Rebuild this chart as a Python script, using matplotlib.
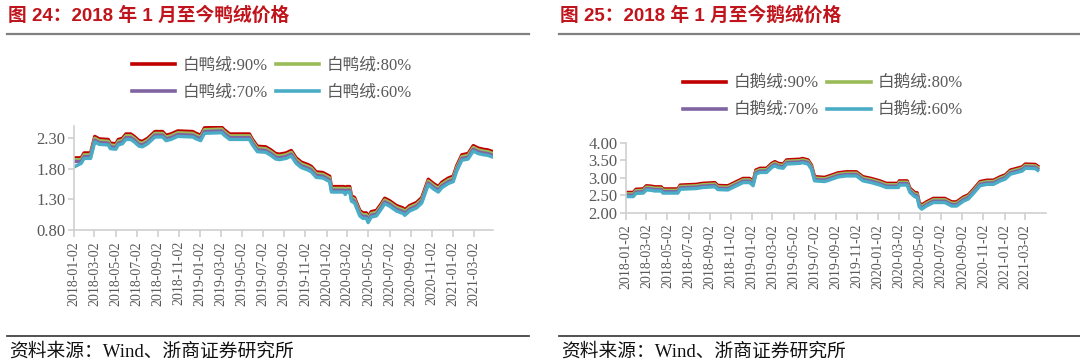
"""Duck and goose down prices since Jan 2018 (two side-by-side panels)."""

import matplotlib

matplotlib.use("Agg")
import matplotlib.pyplot as plt
import pandas as pd
from matplotlib.lines import Line2D

CJK = "Noto Sans CJK SC"
SERIF = ["Liberation Serif", CJK]
SANS = ["Liberation Sans", CJK]

SERIES_COLORS = ["#C00000", "#9BBB59", "#8064A2", "#4BACC6"]
GRADES = ["90%", "80%", "70%", "60%"]

tick_labels = [
    "2018-01-02", "2018-03-02", "2018-05-02", "2018-07-02", "2018-09-02",
    "2018-11-02", "2019-01-02", "2019-03-02", "2019-05-02", "2019-07-02",
    "2019-09-02", "2019-11-02", "2020-01-02", "2020-03-02", "2020-05-02",
    "2020-07-02", "2020-09-02", "2020-11-02", "2021-01-02", "2021-03-02",
]

# --- 白鸭绒 (duck down) ---
duck_dates = [
    "2018-01-02", "2018-01-23", "2018-01-31", "2018-02-19", "2018-03-03",
    "2018-03-16", "2018-04-11", "2018-04-17", "2018-05-03", "2018-05-10",
    "2018-05-22", "2018-06-01", "2018-06-15", "2018-06-25", "2018-07-09",
    "2018-07-19", "2018-08-03", "2018-08-24", "2018-09-15", "2018-09-25",
    "2018-10-09", "2018-10-29", "2018-12-11", "2018-12-21", "2019-01-03",
    "2019-01-14", "2019-03-05", "2019-03-12", "2019-03-28", "2019-05-24",
    "2019-06-02", "2019-06-16", "2019-07-10", "2019-07-25", "2019-08-08",
    "2019-08-19", "2019-09-07", "2019-09-22", "2019-10-06", "2019-10-21",
    "2019-11-09", "2019-11-19", "2019-12-03", "2019-12-22", "2020-01-11",
    "2020-01-16", "2020-02-21", "2020-02-25", "2020-02-29", "2020-03-09",
    "2020-03-14", "2020-03-23", "2020-04-07", "2020-04-16", "2020-04-26",
    "2020-05-01", "2020-05-10", "2020-05-25", "2020-06-08", "2020-06-18",
    "2020-07-02", "2020-07-22", "2020-08-10", "2020-08-15", "2020-08-29",
    "2020-09-18", "2020-10-03", "2020-10-22", "2020-11-06", "2020-11-20",
    "2020-11-30", "2020-12-19", "2021-01-02", "2021-01-12", "2021-01-27",
    "2021-02-14", "2021-03-01", "2021-03-15", "2021-03-30", "2021-04-12",
    "2021-04-27",
]
duck_90 = [
    1.98, 1.98, 2.06, 2.06, 2.33, 2.29, 2.28, 2.22, 2.21, 2.28,
    2.30, 2.37, 2.37, 2.33, 2.26, 2.25, 2.30, 2.41, 2.41, 2.35,
    2.37, 2.42, 2.41, 2.38, 2.35, 2.47, 2.48, 2.44, 2.37, 2.37,
    2.28, 2.17, 2.16, 2.11, 2.05, 2.04, 2.06, 2.10, 1.98, 1.91,
    1.87, 1.84, 1.75, 1.74, 1.68, 1.51, 1.51, 1.47, 1.51, 1.51,
    1.36, 1.33, 1.12, 1.08, 1.08, 1.01, 1.10, 1.12, 1.23, 1.32,
    1.28, 1.20, 1.16, 1.13, 1.20, 1.25, 1.33, 1.63, 1.56, 1.51,
    1.58, 1.65, 1.68, 1.85, 2.03, 2.05, 2.18, 2.14, 2.12, 2.11,
    2.08,
]
duck_80 = [
    1.95, 1.95, 2.03, 2.03, 2.30, 2.26, 2.25, 2.19, 2.18, 2.25,
    2.27, 2.34, 2.34, 2.30, 2.23, 2.22, 2.27, 2.38, 2.38, 2.32,
    2.34, 2.39, 2.38, 2.35, 2.32, 2.44, 2.45, 2.41, 2.34, 2.34,
    2.25, 2.14, 2.13, 2.08, 2.02, 2.01, 2.03, 2.07, 1.95, 1.88,
    1.84, 1.81, 1.72, 1.71, 1.65, 1.48, 1.48, 1.44, 1.48, 1.48,
    1.33, 1.30, 1.09, 1.05, 1.05, 0.98, 1.07, 1.09, 1.20, 1.29,
    1.25, 1.17, 1.13, 1.10, 1.17, 1.22, 1.30, 1.60, 1.53, 1.48,
    1.55, 1.62, 1.65, 1.82, 2.00, 2.02, 2.15, 2.11, 2.09, 2.08,
    2.05,
]
duck_70 = [
    1.92, 1.92, 2.00, 2.00, 2.27, 2.23, 2.22, 2.16, 2.15, 2.22,
    2.24, 2.31, 2.31, 2.27, 2.20, 2.19, 2.24, 2.35, 2.35, 2.29,
    2.31, 2.36, 2.35, 2.32, 2.29, 2.41, 2.42, 2.38, 2.31, 2.31,
    2.22, 2.11, 2.10, 2.05, 1.99, 1.98, 2.00, 2.04, 1.92, 1.85,
    1.81, 1.78, 1.69, 1.68, 1.62, 1.45, 1.45, 1.41, 1.45, 1.45,
    1.30, 1.27, 1.06, 1.02, 1.02, 0.95, 1.04, 1.06, 1.17, 1.26,
    1.22, 1.14, 1.10, 1.07, 1.14, 1.19, 1.27, 1.57, 1.50, 1.45,
    1.52, 1.59, 1.62, 1.79, 1.97, 1.99, 2.12, 2.08, 2.06, 2.05,
    2.02,
]
duck_60 = [
    1.83, 1.89, 1.97, 1.97, 2.24, 2.20, 2.19, 2.13, 2.12, 2.19,
    2.21, 2.28, 2.28, 2.24, 2.17, 2.16, 2.21, 2.32, 2.32, 2.26,
    2.28, 2.33, 2.32, 2.29, 2.26, 2.38, 2.39, 2.35, 2.28, 2.28,
    2.19, 2.08, 2.07, 2.02, 1.96, 1.95, 1.97, 2.01, 1.89, 1.82,
    1.78, 1.75, 1.66, 1.65, 1.59, 1.42, 1.42, 1.38, 1.42, 1.42,
    1.27, 1.24, 1.03, 0.99, 0.99, 0.92, 1.01, 1.03, 1.14, 1.23,
    1.19, 1.11, 1.07, 1.04, 1.11, 1.16, 1.24, 1.54, 1.47, 1.42,
    1.49, 1.56, 1.59, 1.76, 1.94, 1.96, 2.09, 2.05, 2.03, 2.02,
    1.99,
]

# --- 白鹅绒 (goose down) ---
goose_dates = [
    "2018-01-02", "2018-01-23", "2018-01-31", "2018-02-21", "2018-03-02",
    "2018-03-16", "2018-03-26", "2018-04-14", "2018-04-19", "2018-06-01",
    "2018-06-08", "2018-07-24", "2018-08-12", "2018-09-16", "2018-09-25",
    "2018-10-24", "2018-11-18", "2018-12-07", "2018-12-26", "2019-01-05",
    "2019-01-13", "2019-01-25", "2019-02-13", "2019-02-28", "2019-03-09",
    "2019-03-19", "2019-04-02", "2019-04-12", "2019-05-21", "2019-05-28",
    "2019-06-13", "2019-06-23", "2019-07-02", "2019-07-31", "2019-08-10",
    "2019-09-08", "2019-10-02", "2019-10-31", "2019-11-19", "2019-12-13",
    "2020-01-07", "2020-01-26", "2020-03-01", "2020-03-03", "2020-03-26",
    "2020-04-03", "2020-04-18", "2020-04-24", "2020-04-30", "2020-05-07",
    "2020-05-21", "2020-06-10", "2020-07-13", "2020-08-02", "2020-08-16",
    "2020-09-05", "2020-09-19", "2020-10-04", "2020-10-23", "2020-11-12",
    "2020-12-01", "2020-12-21", "2021-01-04", "2021-01-19", "2021-02-07",
    "2021-02-22", "2021-03-03", "2021-04-01", "2021-04-08",
]
goose_90 = [
    2.58, 2.58, 2.67, 2.68, 2.77, 2.76, 2.74, 2.74, 2.68, 2.68,
    2.79, 2.81, 2.84, 2.86, 2.78, 2.77, 2.89, 2.98, 2.98, 2.89,
    3.22, 3.27, 3.27, 3.41, 3.46, 3.41, 3.39, 3.51, 3.53, 3.55,
    3.51, 3.36, 3.03, 3.01, 3.04, 3.14, 3.17, 3.17, 3.03, 2.98,
    2.91, 2.84, 2.84, 2.91, 2.91, 2.70, 2.57, 2.57, 2.29, 2.22,
    2.31, 2.41, 2.41, 2.31, 2.31, 2.45, 2.51, 2.67, 2.89, 2.93,
    2.93, 3.03, 3.08, 3.22, 3.27, 3.31, 3.39, 3.38, 3.33,
]
goose_80 = [
    2.54, 2.54, 2.63, 2.64, 2.73, 2.72, 2.70, 2.70, 2.64, 2.64,
    2.75, 2.77, 2.80, 2.82, 2.74, 2.73, 2.85, 2.94, 2.94, 2.85,
    3.18, 3.23, 3.23, 3.37, 3.42, 3.37, 3.35, 3.47, 3.49, 3.51,
    3.47, 3.32, 2.99, 2.97, 3.00, 3.10, 3.13, 3.13, 2.99, 2.94,
    2.87, 2.80, 2.80, 2.87, 2.87, 2.66, 2.53, 2.53, 2.25, 2.18,
    2.27, 2.37, 2.37, 2.27, 2.27, 2.41, 2.47, 2.63, 2.85, 2.89,
    2.89, 2.99, 3.04, 3.18, 3.23, 3.27, 3.35, 3.34, 3.29,
]
goose_70 = [
    2.50, 2.50, 2.59, 2.60, 2.69, 2.68, 2.66, 2.66, 2.60, 2.60,
    2.71, 2.73, 2.76, 2.78, 2.70, 2.69, 2.81, 2.90, 2.90, 2.81,
    3.14, 3.19, 3.19, 3.33, 3.38, 3.33, 3.31, 3.43, 3.45, 3.47,
    3.43, 3.28, 2.95, 2.93, 2.96, 3.06, 3.09, 3.09, 2.95, 2.90,
    2.83, 2.76, 2.76, 2.83, 2.83, 2.62, 2.49, 2.49, 2.21, 2.14,
    2.23, 2.33, 2.33, 2.23, 2.23, 2.37, 2.43, 2.59, 2.81, 2.85,
    2.85, 2.95, 3.00, 3.14, 3.19, 3.23, 3.31, 3.30, 3.25,
]
goose_60 = [
    2.46, 2.46, 2.55, 2.56, 2.65, 2.64, 2.62, 2.62, 2.56, 2.56,
    2.67, 2.69, 2.72, 2.74, 2.66, 2.65, 2.77, 2.86, 2.86, 2.77,
    3.10, 3.15, 3.15, 3.29, 3.34, 3.29, 3.27, 3.39, 3.41, 3.43,
    3.39, 3.24, 2.91, 2.89, 2.92, 3.02, 3.05, 3.05, 2.91, 2.86,
    2.79, 2.72, 2.72, 2.79, 2.79, 2.58, 2.45, 2.45, 2.17, 2.10,
    2.19, 2.29, 2.29, 2.19, 2.19, 2.33, 2.39, 2.55, 2.77, 2.81,
    2.81, 2.91, 2.96, 3.10, 3.15, 3.19, 3.27, 3.26, 3.21,
]

duck_yticks = [0.80, 1.30, 1.80, 2.30]
goose_yticks = [2.00, 2.50, 3.00, 3.50, 4.00]

W, H = 1080, 360


def fx(px):
    return px / W


def fy(py):
    return 1 - py / H


def draw_panel(fig, rect, dates, series, name, yticks, ylim, xmax):
    """One line panel: 4 grades, serif ticks, grey left/bottom spines."""
    ax = fig.add_axes(rect)
    x = pd.to_datetime(dates)
    handles = []
    for values, color, grade in zip(series, SERIES_COLORS, GRADES):
        ax.plot(x, values, color=color, lw=2.4, solid_joinstyle="round")
        handles.append(Line2D([], [], color=color, lw=2.6, label=f"{name}:{grade}"))

    ax.set_xlim(pd.Timestamp("2018-01-02"), pd.Timestamp(xmax))
    ax.set_ylim(*ylim)
    ax.set_xticks(pd.to_datetime(tick_labels))
    ax.set_xticklabels(tick_labels, rotation=90, family=SERIF, fontsize=10, color="#595959")
    ax.set_yticks(yticks)
    ax.set_yticklabels([f"{v:.2f}" for v in yticks], family=SERIF, fontsize=12, color="#595959")
    for side in ("top", "right"):
        ax.spines[side].set_visible(False)
    for side in ("left", "bottom"):
        ax.spines[side].set_color("#d0d0d0")
        ax.spines[side].set_linewidth(1.2)
    ax.tick_params(axis="x", length=5, color="#d0d0d0", width=1.2, pad=3)
    ax.tick_params(axis="y", length=4, color="#d0d0d0", width=1.2, pad=2)
    # legend fills column-wise: reorder so rows read 90/80 then 70/60
    return ax, [handles[0], handles[2], handles[1], handles[3]]


def frame(fig, x0, x1, title):
    """Red bold title, grey rule under it, black rule and source at the bottom."""
    fig.text(fx(x0 + 1), fy(15.5), title, family=SANS, fontweight="bold",
             fontsize=13.5, color="#C0141C", va="center", ha="left")
    fig.add_artist(Line2D([fx(x0), fx(x1)], [fy(34), fy(34)], color="#808080", lw=1.6))
    fig.add_artist(Line2D([fx(x0), fx(x1)], [fy(336), fy(336)], color="#333333", lw=1.2))
    fig.text(fx(x0 + 2), fy(352), "资料来源：Wind、浙商证券研究所", family=SERIF,
             fontsize=13.5, color="#111111", va="center", ha="left")


def main():
    fig = plt.figure(figsize=(10.8, 3.6), dpi=100)
    fig.patch.set_facecolor("white")

    _, duck_handles = draw_panel(
        fig, [fx(74), fy(230), fx(493 - 74), fy(126) - fy(230)],
        duck_dates, [duck_90, duck_80, duck_70, duck_60], "白鸭绒",
        duck_yticks, (0.80, 2.50), "2021-04-27",
    )
    _, goose_handles = draw_panel(
        fig, [fx(626), fy(212.7), fx(1046 - 626), fy(142.7) - fy(212.7)],
        goose_dates, [goose_90, goose_80, goose_70, goose_60], "白鹅绒",
        goose_yticks, (2.00, 4.00), "2021-05-02",
    )

    legend_kw = dict(
        ncol=2, frameon=False, loc="center", handlelength=2.6, handletextpad=0.45,
        columnspacing=0.5, labelspacing=0.68, borderpad=0,
        prop={"family": SERIF, "size": 12},
    )
    for handles, cx, cy in ((duck_handles, 272, 79), (goose_handles, 823, 97)):
        leg = fig.legend(handles=handles, bbox_to_anchor=(fx(cx), fy(cy)), **legend_kw)
        for t in leg.get_texts():
            t.set_color("#595959")

    frame(fig, 7, 529, "图 24：2018 年 1 月至今鸭绒价格")
    frame(fig, 559, 1080, "图 25：2018 年 1 月至今鹅绒价格")

    fig.savefig("out.png", dpi=100, facecolor="white")
    plt.close(fig)


if __name__ == "__main__":
    main()
